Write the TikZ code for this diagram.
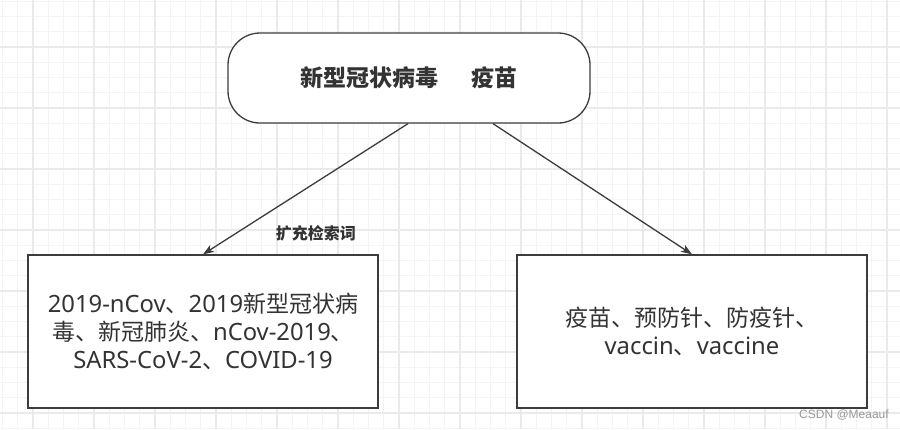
\documentclass[tikz,border=0pt]{standalone}
\usepackage{fontspec}
\setmainfont{Noto Sans}
\newfontfamily\cjk{Noto Sans CJK SC}
\newfontfamily\wmfont{Liberation Sans}
\newcommand\zh[1]{{\cjk\fontsize{23}{28}\selectfont #1}}
\usetikzlibrary{arrows.meta,calc}
\definecolor{ink}{HTML}{333333}
\definecolor{edgecol}{HTML}{3C3C3C}
\definecolor{gminor}{HTML}{F4F4F4}
\definecolor{gmajor}{HTML}{EAEAEA}
\begin{document}
\begin{tikzpicture}[x=1pt,y=-1pt,
  box/.style={draw=edgecol, line width=1.3pt, fill=white, text=ink, align=center, inner sep=0pt},
  boxtext/.style={font=\fontsize{23.8}{28}\selectfont},
  arr/.style={draw=edgecol, line width=1.3pt, -{Stealth[length=11pt,width=8pt,inset=3pt]}},
  elabel/.style={text=ink, font=\cjk\bfseries\fontsize{16}{18}\selectfont, inner sep=0pt},
  minorline/.style={draw=gminor, line width=1pt},
  majorline/.style={draw=gmajor, line width=1.3pt}]
\useasboundingbox (0,0) rectangle (900,429);
\fill[white] (0,0) rectangle (900,429);
% grid
\foreach \i in {0,...,58} { \path[minorline] ({2.5+15.25*\i},0) -- ({2.5+15.25*\i},429); }
\foreach \i in {0,...,28} { \path[minorline] (0,{1.25+15.25*\i}) -- (900,{1.25+15.25*\i}); }
\foreach \i in {0,...,14} { \path[majorline] ({33+61*\i},0) -- ({33+61*\i},429); }
\foreach \i in {0,...,6} { \path[majorline] (0,{47+61*\i}) -- (900,{47+61*\i}); }
% nodes
\node[box, rounded corners=32pt, minimum width=362pt, minimum height=90pt,
      font=\cjk\bfseries\fontsize{23}{26}\selectfont] (top) at (409,78) {新型冠状病毒\hspace{34pt}疫苗};
\node[box, boxtext, minimum width=350pt, minimum height=153pt] (left) at (203,331.5)
  {2019-nCov\zh{、}2019\zh{新型冠状病}\\\zh{毒、新冠肺炎、}nCov-2019\zh{、}\\SARS-CoV-2\zh{、}COVID-19};
\node[box, boxtext, minimum width=350pt, minimum height=153pt] (right) at (692,331.5)
  {\zh{疫苗、预防针、防疫针、}\\vaccin\zh{、}vaccine};
% connectors
\draw[arr] ($(top.south)+(-1,0)$) -- node[elabel, pos=0.84, xshift=80pt] (lab) {扩充检索词} (left.north);
\draw[arr] ($(top.south)+(84,0)$) -- (right.north);
% watermark
\node[text=black!40, font=\wmfont\fontsize{12}{14}\selectfont, inner sep=0pt] (wm) at (844,415) {CSDN @Meaauf};
\end{tikzpicture}
\end{document}
